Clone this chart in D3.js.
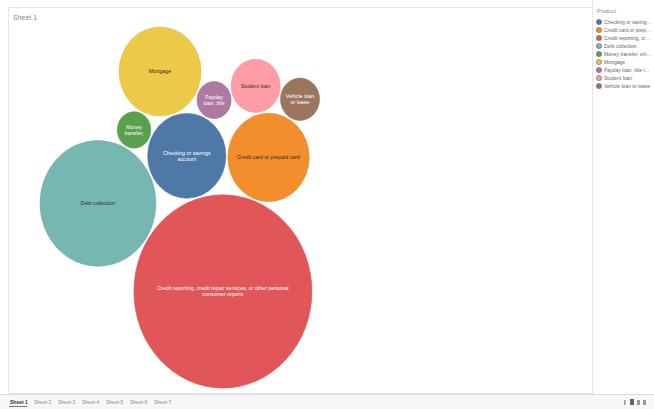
<!DOCTYPE html>
<html>
<head>
<meta charset="utf-8">
<script src="https://cdn.jsdelivr.net/npm/d3@7"></script>
<style>
  html, body { margin: 0; padding: 0; background: #ffffff; }
  svg { display: block; font-family: "Liberation Sans", Arial, sans-serif; }
</style>
</head>
<body>
<svg id="chart" width="654" height="409"></svg>
<script>
// Complaint counts by product (alphabetical, as the colour legend lists them)
const products = [
  "Checking or savings account",
  "Credit card or prepaid card",
  "Credit reporting, credit repair services, or other personal consumer reports",
  "Debt collection",
  "Money transfer, virtual currency, or money service",
  "Mortgage",
  "Payday loan, title loan, or personal loan",
  "Student loan",
  "Vehicle loan or lease"
];
const complaints = [30500, 33000, 158000, 67000, 5600, 33600, 5800, 12000, 7600];
// Text shown inside each bubble
const bubbleLabels = [
  ["Checking or savings", "account"],
  ["Credit card or prepaid card"],
  ["Credit reporting, credit repair services, or other personal", "consumer reports"],
  ["Debt collection"],
  ["Money", "transfer,"],
  ["Mortgage"],
  ["Payday", "loan, title"],
  ["Student loan"],
  ["Vehicle loan", "or lease"]
];
const sheetTabs = ["Sheet 1", "Sheet 2", "Sheet 3", "Sheet 4", "Sheet 5", "Sheet 6", "Sheet 7"];
const legendTitle = "Product";
const viewTitle = "Sheet 1";

const W = 654, H = 409;
const svg = d3.select("#chart");

const color = d3.scaleOrdinal().domain(products).range(d3.schemeTableau10);
const rScale = d3.scaleSqrt().domain([0, d3.max(complaints)]).range([0, 89]);
const darkText = new Set(["Credit card or prepaid card", "Debt collection", "Mortgage", "Student loan"]);

const nodes = products.map((p, i) => ({ name: p, value: complaints[i], r: rScale(complaints[i]), lines: bubbleLabels[i] }));
const byName = new Map(nodes.map(d => [d.name, d]));

// ---- packed-bubble layout: each bubble sits tangent to two already placed ones ----
const gap = 2;
function overlaps(c, placed) {
  return placed.some(p => Math.hypot(p.x - c.x, p.y - c.y) < p.r + c.r + gap - 0.5);
}
function placeTangent(a, b, node, placed) {
  const dx = b.x - a.x, dy = b.y - a.y, d = Math.hypot(dx, dy);
  const da = a.r + node.r + gap, db = b.r + node.r + gap;
  const t = (da * da - db * db + d * d) / (2 * d);
  const h = Math.sqrt(Math.max(0, da * da - t * t));
  const ux = dx / d, uy = dy / d;
  const cands = [-1, 1].map(s => ({ x: a.x + ux * t - s * uy * h, y: a.y + uy * t + s * ux * h, r: node.r }));
  cands.sort((p, q) => (overlaps(p, placed) - overlaps(q, placed)) || (p.y - q.y));
  node.x = cands[0].x; node.y = cands[0].y;
}
const order = [...nodes].sort((a, b) => b.value - a.value);
const first = order[0], second = order[1];
first.x = 0; first.y = 0;
const ang = -147 * Math.PI / 180;
second.x = Math.cos(ang) * (first.r + second.r + gap);
second.y = Math.sin(ang) * (first.r + second.r + gap);
const placed = [first, second];
const steps = [
  ["Checking or savings account", products[2], "Debt collection"],
  ["Credit card or prepaid card", products[2], "Checking or savings account"],
  [products[4], "Debt collection", "Checking or savings account"],
  ["Mortgage", products[4], "Checking or savings account"],
  [products[6], "Mortgage", "Checking or savings account"],
  ["Student loan", products[6], "Credit card or prepaid card"],
  ["Vehicle loan or lease", "Student loan", "Credit card or prepaid card"]
];
steps.forEach(([n, a, b]) => {
  const node = byName.get(n);
  placeTangent(byName.get(a), byName.get(b), node, placed);
  placed.push(node);
});

// fit packing into the view; the view stretches the pack slightly in height
const sy = 1.085;
const minX = d3.min(nodes, d => d.x - d.r);
const minY = d3.min(nodes, d => d.y - d.r);
const x = d3.scaleLinear().domain([minX, minX + 1]).range([40, 41]);
const y = d3.scaleLinear().domain([minY, minY + 1]).range([27, 27 + sy]);

// ---- frame ----
svg.append("rect").attr("x", 0).attr("y", 0).attr("width", W).attr("height", H).attr("fill", "#ffffff");
svg.append("rect").attr("x", 8.5).attr("y", 7.5).attr("width", 584).attr("height", 386)
  .attr("fill", "#ffffff").attr("stroke", "#e6e6e6");
svg.append("line").attr("x1", 592.5).attr("x2", 592.5).attr("y1", 0).attr("y2", 394).attr("stroke", "#e6e6e6");
svg.append("text").attr("x", 13).attr("y", 20).attr("font-size", 7).attr("fill", "#8a8a8a").text(viewTitle);

// ---- bubbles ----
const g = svg.append("g");
const bubble = g.selectAll("g.bubble").data(nodes).join("g").attr("class", "bubble");
bubble.append("ellipse")
  .attr("cx", d => x(d.x)).attr("cy", d => y(d.y))
  .attr("rx", d => d.r).attr("ry", d => d.r * sy)
  .attr("fill", d => color(d.name))
  .attr("stroke", d => d3.color(color(d.name)).darker(0.15)).attr("stroke-width", 0.6);
bubble.each(function (d) {
  const n = d.lines.length, lh = 6.2;
  d3.select(this).selectAll("text").data(d.lines).join("text")
    .attr("x", x(d.x))
    .attr("y", (l, i) => y(d.y) + (i - (n - 1) / 2) * lh + 1.9)
    .attr("text-anchor", "middle")
    .attr("font-size", 5.3)
    .attr("fill", darkText.has(d.name) ? "#3a2a1a" : "#ffffff")
    .text(l => l);
});

// ---- colour legend ----
const leg = svg.append("g");
leg.append("text").attr("x", 597).attr("y", 13).attr("font-size", 5.5).attr("fill", "#888").text(legendTitle);
const items = leg.selectAll("g.item").data(products).join("g").attr("class", "item")
  .attr("transform", (d, i) => `translate(599,${22 + i * 8})`);
items.append("circle").attr("r", 2.6).attr("fill", d => color(d)).attr("stroke", "#666").attr("stroke-width", 0.6);
items.append("text").attr("x", 5).attr("y", 1.8).attr("font-size", 5).attr("fill", "#666")
  .text(d => d)
  .each(function (d) {
    const t = d3.select(this);
    let s = d;
    while (this.getComputedTextLength() > 48 && s.length > 1) {
      s = s.slice(0, -1);
      t.text(s.trimEnd() + "…");
    }
  });

// ---- sheet tabs ----
svg.append("rect").attr("x", 0).attr("y", 394).attr("width", W).attr("height", 15).attr("fill", "#f7f7f7");
svg.append("line").attr("x1", 0).attr("x2", W).attr("y1", 394.5).attr("y2", 394.5).attr("stroke", "#dddddd");
const tabs = svg.selectAll("g.tab").data(sheetTabs).join("g").attr("class", "tab")
  .attr("transform", (d, i) => `translate(${10 + i * 24},404)`);
tabs.append("text").attr("font-size", 5).attr("fill", (d, i) => i === 0 ? "#333" : "#888")
  .attr("font-weight", (d, i) => i === 0 ? "bold" : "normal").text(d => d);
svg.append("line").attr("x1", 9).attr("x2", 27).attr("y1", 406.5).attr("y2", 406.5).attr("stroke", "#555").attr("stroke-width", 0.8);
// navigation glyphs at the lower right
const nav = svg.append("g").attr("fill", "#999");
nav.append("rect").attr("x", 624).attr("y", 400).attr("width", 1.5).attr("height", 5);
nav.append("rect").attr("x", 630).attr("y", 399).attr("width", 4).attr("height", 6).attr("fill", "#666");
nav.append("rect").attr("x", 637).attr("y", 400).attr("width", 3).attr("height", 5);
nav.append("rect").attr("x", 643).attr("y", 400).attr("width", 3).attr("height", 5);
</script>
</body>
</html>
